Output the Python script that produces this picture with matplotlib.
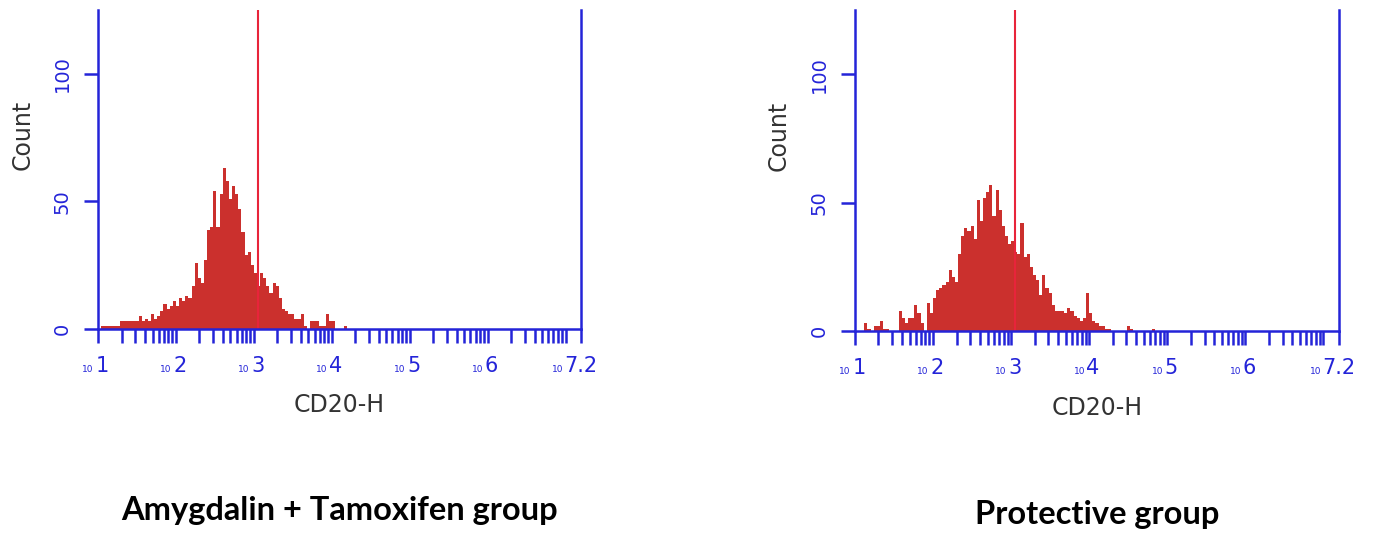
import numpy as np
import matplotlib.pyplot as plt

# histogram counts, 25 log bins per decade starting at 10^1
bins_per_decade = 25
counts_amyg = [0, 1, 1, 1, 1, 1, 1, 3, 3, 3, 3, 3, 3, 5, 3, 4, 3, 6, 4, 5,
               7, 10, 8, 9, 11, 9, 12, 11, 13, 12, 17, 26, 20, 18, 27, 39, 40, 54, 40, 53,
               63, 58, 51, 56, 53, 47, 38, 29, 30, 25, 22, 17, 22, 20, 17, 14, 18, 17, 12, 8,
               7, 6, 6, 4, 4, 6, 1, 0, 3, 3, 3, 1, 1, 6, 3, 3, 0, 0, 0, 1]
counts_prot = [0, 0, 0, 3, 1, 0, 2, 2, 4, 1, 1, 0, 0, 0, 8, 5, 3, 5, 5, 10,
               7, 3, 0, 11, 7, 13, 16, 17, 18, 19, 24, 21, 19, 30, 37, 40, 39, 41, 36, 51,
               43, 52, 54, 57, 45, 55, 47, 41, 37, 34, 35, 31, 30, 42, 29, 30, 25, 22, 20, 14,
               22, 17, 15, 10, 8, 8, 8, 7, 9, 8, 6, 5, 4, 5, 15, 7, 4, 3, 2, 2,
               1, 1, 0, 0, 0, 0, 0, 2, 1, 0, 0, 0, 0, 0, 0, 1]
gate = 1.13e3
group_names = ["Amygdalin + Tamoxifen group", "Protective group"]
exp_labels = ["1", "2", "3", "4", "5", "6", "7.2"]
exp_values = [1, 2, 3, 4, 5, 6, 7.2]

blue = "#2424d8"
hist_red = "#cb302d"
line_red = "#e8243a"

fig = plt.figure(figsize=(13.79, 5.35), dpi=100)
ax_pos = [[0.0711, 0.385, 0.3503, 0.596], [0.620, 0.381, 0.351, 0.600]]

for pos, counts, name in zip(ax_pos, [counts_amyg, counts_prot], group_names):
    ax = fig.add_axes(pos)
    edges = 10 ** (1 + np.arange(len(counts) + 1) / bins_per_decade)
    ax.stairs(counts, edges, fill=True, color=hist_red, lw=0)
    ax.axvline(gate, color=line_red, lw=1.5)

    ax.set_xscale("log")
    ax.set_xlim(10, 10 ** 7.2)
    ax.set_ylim(0, 125)
    ax.spines["top"].set_visible(False)
    for s in ["left", "right", "bottom"]:
        ax.spines[s].set_color(blue)
        ax.spines[s].set_linewidth(1.8)

    major = [10 ** v for v in exp_values]
    minor = [m * 10 ** k for k in range(1, 7) for m in range(2, 10)]
    ax.set_xticks(major + [1e7])
    ax.set_xticks(minor, minor=True)
    ax.set_xticklabels([])
    ax.set_xticklabels([], minor=True)
    ax.tick_params(axis="x", which="both", direction="out", length=10,
                   width=1.8, color=blue)

    ax.set_yticks([0, 50, 100])
    ax.set_yticklabels(["0", "50", "100"], rotation=90, va="center",
                       color=blue, fontsize=14)
    ax.tick_params(axis="y", direction="out", length=10, width=1.8,
                   color=blue, pad=9)

    for v, e in zip(exp_values, exp_labels):
        shift = -10 if "." in e else 0
        ax.annotate("10", xy=(10 ** v, 0), xycoords=("data", "axes fraction"),
                    xytext=(-3 + shift, -31), textcoords="offset points",
                    ha="right", va="baseline", fontsize=6.5, color=blue,
                    annotation_clip=False)
        ax.annotate(e, xy=(10 ** v, 0), xycoords=("data", "axes fraction"),
                    xytext=(-2 + shift, -31), textcoords="offset points",
                    ha="left", va="baseline", fontsize=15, color=blue,
                    annotation_clip=False)

    ax.text(0.5, -0.238, "CD20-H", transform=ax.transAxes, ha="center",
            va="center", fontsize=17, color="#333333")
    ax.text(-0.157, 0.608, "Count", transform=ax.transAxes, ha="center",
            va="center", rotation=90, fontsize=17, color="#333333")
    ax.text(0.5, -0.57, name, transform=ax.transAxes, ha="center",
            va="center", fontsize=23.5, fontweight="bold", family="Lato",
            color="black")

fig.savefig("out.png", dpi=100)
